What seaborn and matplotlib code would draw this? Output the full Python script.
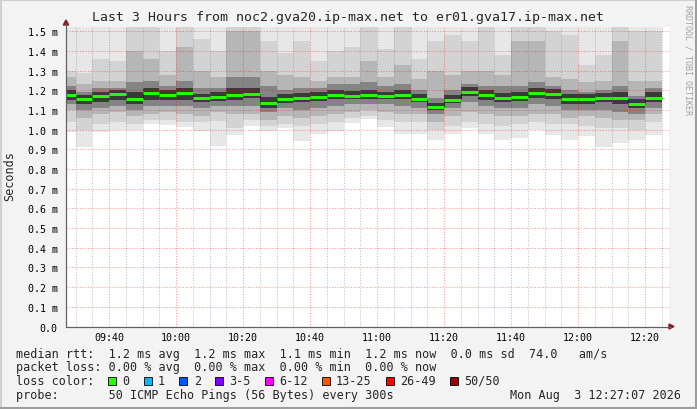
import numpy as np
import pandas as pd
import matplotlib
matplotlib.use("Agg")
import matplotlib.pyplot as plt
import matplotlib.dates as mdates
from matplotlib.patches import Rectangle, Polygon
from matplotlib.lines import Line2D
from matplotlib.ticker import MultipleLocator, FuncFormatter
import seaborn as sns

# chart text
title = "Last 3 Hours from noc2.gva20.ip-max.net to er01.gva17.ip-max.net"
y_label = "Seconds"
watermark = "RRDTOOL / TOBI OETIKER"
stamp = "Mon Aug  3 12:27:07 2026"

# time axis (5 min steps, first slot partly outside the window)
first_slot = "2026-08-03 09:25"
view_start = "2026-08-03 09:27:07"
view_end = "2026-08-03 12:27:07"
step = "5min"

# median rtt per slot (ms)
median = [1.178, 1.158, 1.173, 1.183, 1.158, 1.188, 1.178, 1.188, 1.163, 1.168, 1.178, 1.183,
          1.137, 1.158, 1.163, 1.168, 1.178, 1.173, 1.178, 1.173, 1.178, 1.158, 1.117, 1.152,
          1.193, 1.178, 1.163, 1.168, 1.188, 1.183, 1.158, 1.158, 1.163, 1.163, 1.132, 1.163]

# smoke: lowest / highest ping per slot
ping_min = [0.987, 0.914, 0.990, 1.000, 1.000, 1.029, 1.026, 1.016, 0.995, 0.919, 0.973, 1.021,
            0.995, 1.009, 0.943, 0.980, 0.995, 1.034, 1.054, 1.016, 0.980, 0.977, 0.947, 0.980,
            1.009, 0.980, 0.950, 0.960, 1.000, 0.975, 0.947, 0.967, 0.914, 0.932, 0.947, 0.975]
ping_max = [1.62, 1.60, 1.63, 1.61, 1.70, 1.68, 1.62, 1.72, 1.64, 1.62, 1.75, 1.74,
            1.63, 1.62, 1.64, 1.61, 1.62, 1.63, 1.70, 1.62, 1.69, 1.61, 1.64, 1.65,
            1.64, 1.68, 1.62, 1.71, 1.70, 1.66, 1.65, 1.60, 1.62, 1.70, 1.66, 1.66]

# smoke: outer band (~5th / 46th ping)
outer_lo = [1.04, 1.00, 1.03, 1.04, 1.03, 1.05, 1.05, 1.04, 1.04, 1.045, 1.01, 1.05,
            1.02, 1.03, 1.02, 1.03, 1.04, 1.06, 1.07, 1.05, 1.04, 1.04, 1.00, 1.02,
            1.04, 1.03, 1.02, 1.03, 1.04, 1.03, 1.03, 1.02, 1.01, 1.01, 1.00, 1.04]
outer_hi = [1.30, 1.29, 1.36, 1.35, 1.60, 1.60, 1.40, 1.60, 1.46, 1.40, 1.60, 1.60,
            1.45, 1.39, 1.45, 1.35, 1.40, 1.42, 1.60, 1.41, 1.60, 1.36, 1.45, 1.48,
            1.45, 1.60, 1.38, 1.60, 1.60, 1.50, 1.48, 1.33, 1.38, 1.60, 1.50, 1.50]

# smoke: middle band (~10th / 41st ping)
mid_lo = [1.10, 1.06, 1.08, 1.09, 1.07, 1.08, 1.09, 1.08, 1.07, 1.09, 1.08, 1.08,
          1.05, 1.07, 1.06, 1.07, 1.08, 1.09, 1.10, 1.09, 1.08, 1.08, 1.04, 1.07,
          1.09, 1.08, 1.07, 1.07, 1.08, 1.08, 1.06, 1.07, 1.06, 1.05, 1.05, 1.08]
mid_hi = [1.27, 1.23, 1.25, 1.25, 1.40, 1.36, 1.28, 1.42, 1.30, 1.27, 1.50, 1.50,
          1.30, 1.28, 1.27, 1.25, 1.27, 1.27, 1.35, 1.27, 1.33, 1.26, 1.30, 1.28,
          1.30, 1.30, 1.28, 1.45, 1.45, 1.27, 1.26, 1.24, 1.25, 1.45, 1.25, 1.25]

# smoke: inner band (~17th / 34th ping)
inner_lo = [1.13, 1.10, 1.11, 1.12, 1.10, 1.12, 1.12, 1.12, 1.11, 1.12, 1.12, 1.12,
            1.09, 1.11, 1.10, 1.11, 1.12, 1.13, 1.13, 1.13, 1.12, 1.11, 1.08, 1.11,
            1.14, 1.12, 1.11, 1.11, 1.13, 1.12, 1.10, 1.10, 1.10, 1.09, 1.08, 1.11]
inner_hi = [1.22, 1.19, 1.21, 1.21, 1.24, 1.25, 1.22, 1.25, 1.21, 1.21, 1.27, 1.27,
            1.22, 1.20, 1.21, 1.21, 1.23, 1.23, 1.24, 1.22, 1.23, 1.20, 1.16, 1.20,
            1.23, 1.22, 1.22, 1.22, 1.24, 1.22, 1.20, 1.19, 1.20, 1.22, 1.17, 1.21]

# smoke: core band (~22nd / 29th ping)
core_lo = [1.15, 1.13, 1.14, 1.15, 1.13, 1.15, 1.15, 1.15, 1.14, 1.145, 1.15, 1.16,
           1.11, 1.135, 1.14, 1.145, 1.155, 1.155, 1.155, 1.155, 1.155, 1.14, 1.10, 1.135,
           1.17, 1.15, 1.14, 1.145, 1.16, 1.155, 1.13, 1.13, 1.14, 1.13, 1.11, 1.14]
core_hi = [1.20, 1.175, 1.19, 1.20, 1.19, 1.21, 1.20, 1.21, 1.18, 1.19, 1.21, 1.21,
           1.165, 1.18, 1.185, 1.19, 1.20, 1.195, 1.20, 1.19, 1.20, 1.18, 1.135, 1.175,
           1.215, 1.20, 1.185, 1.19, 1.21, 1.205, 1.18, 1.18, 1.185, 1.19, 1.155, 1.19]

# legend text
rtt_line = "median rtt:  1.2 ms avg  1.2 ms max  1.1 ms min  1.2 ms now  0.0 ms sd  74.0   am/s"
loss_line = "packet loss: 0.00 % avg  0.00 % max  0.00 % min  0.00 % now"
probe_line = "probe:       50 ICMP Echo Pings (56 Bytes) every 300s"
loss_labels = ["0", "1", "2", "3-5", "6-12", "13-25", "26-49", "50/50"]
loss_colors = ["#26ff00", "#00b8ff", "#0059ff", "#7e00ff", "#ff00ff", "#ff5500", "#ff0000", "#a10000"]

sns.set_style("white")
plt.rcParams["font.family"] = ["DejaVu Sans Mono", "DejaVu Sans"]

W, H = 697, 410
fig = plt.figure(figsize=(W / 100, H / 100), dpi=100, facecolor="#f3f3f3")
ax = fig.add_axes([66 / W, 1 - 327.5 / H, 603 / W, 300 / H])
ax.set_facecolor("white")

slots = pd.date_range(first_slot, periods=len(median), freq=step)
x = mdates.date2num(slots.to_pydatetime())
w = pd.Timedelta(step) / pd.Timedelta("1D")

# smoke bands, lightest (widest) first
bands = [(ping_min, ping_max, "#e7e7e7"),
         (outer_lo, outer_hi, "#d3d3d3"),
         (mid_lo, mid_hi, "#b6b6b6"),
         (inner_lo, inner_hi, "#848484"),
         (core_lo, core_hi, "#3a3a3a")]
for lo, hi, c in bands:
    lo = np.array(lo)
    hi = np.array(hi)
    ax.bar(x, hi - lo, bottom=lo, width=w, align="edge", color=c, linewidth=0, zorder=1)

# median: thin dark steps + green segments
df = pd.DataFrame({"t": np.append(x, x[-1] + w), "median": median + [median[-1]]})
sns.lineplot(data=df, x="t", y="median", drawstyle="steps-post", color="#202020",
             linewidth=0.7, ax=ax, zorder=3)
ax.hlines(median, x, x + w, color=loss_colors[0], linewidth=2.1, zorder=4)

ax.set_xlim(mdates.date2num(pd.Timestamp(view_start)), mdates.date2num(pd.Timestamp(view_end)))
ax.set_ylim(0, 1.5245)

ax.xaxis.set_major_locator(mdates.MinuteLocator(byminute=[0, 20, 40]))
ax.xaxis.set_minor_locator(mdates.MinuteLocator(byminute=range(0, 60, 5)))
ax.xaxis.set_major_formatter(mdates.DateFormatter("%H:%M"))
ax.yaxis.set_major_locator(MultipleLocator(0.1))
ax.yaxis.set_major_formatter(FuncFormatter(lambda v, p: "0.0" if abs(v) < 1e-9 else f"{v:.1f} m"))

ax.set_axisbelow(False)
ax.grid(which="major", color="#ff0000", alpha=0.4, linewidth=0.75, linestyle=(0, (1, 1.6)))
ax.grid(which="minor", axis="x", color="#808080", alpha=0.5, linewidth=0.75, linestyle=(0, (1, 1.6)))

ax.tick_params(axis="both", which="major", labelsize=7.2, length=2, width=0.7,
               color="#ff9090", labelcolor="black")
ax.tick_params(axis="x", which="minor", length=0)
ax.tick_params(axis="x", pad=2)
ax.tick_params(axis="y", pad=4)
ax.set_xlabel("")
ax.set_ylabel("")

for s in ["top", "right"]:
    ax.spines[s].set_visible(False)
for s in ["left", "bottom"]:
    ax.spines[s].set_color("#606060")
    ax.spines[s].set_linewidth(0.8)
    ax.spines[s].set_zorder(5)


def fx(px):
    return px / W


def fy(py):
    return 1 - py / H


# axis arrows
arrow_c = "#8b1a1a"
fig.add_artist(Line2D([fx(66), fx(66)], [fy(327.5), fy(24)], color="#606060", linewidth=0.8))
fig.add_artist(Line2D([fx(66), fx(671)], [fy(327.5), fy(327.5)], color="#606060", linewidth=0.8))
fig.add_artist(Polygon([[fx(63.3), fy(26)], [fx(68.7), fy(26)], [fx(66), fy(21)]],
                       closed=True, transform=fig.transFigure, color=arrow_c))
fig.add_artist(Polygon([[fx(669), fy(325)], [fx(669), fy(330)], [fx(674), fy(327.5)]],
                       closed=True, transform=fig.transFigure, color=arrow_c))

# frame
fig.add_artist(Line2D([0, 1], [fy(1), fy(1)], color="#cfcfcf", linewidth=1.5))
fig.add_artist(Line2D([fx(1), fx(1)], [0, 1], color="#cfcfcf", linewidth=1.5))
fig.add_artist(Line2D([0, 1], [fy(409), fy(409)], color="#9e9e9e", linewidth=1.5))
fig.add_artist(Line2D([fx(696), fx(696)], [0, 1], color="#9e9e9e", linewidth=1.5))

# texts
fig.text(0.5, fy(18), title, ha="center", va="center", fontsize=9.5)
fig.text(fx(10), fy(176), y_label, rotation=90, ha="center", va="center", fontsize=8.5)
fig.text(fx(688), fy(5), watermark, rotation=270, ha="center", va="top", fontsize=6,
         color="#a0a0a0")

fs = 8.5
cw = 0.602 * fs * 100 / 72
x0 = 16
fig.text(fx(x0), fy(354.5), rtt_line, ha="left", va="center", fontsize=fs)
fig.text(fx(x0), fy(368), loss_line, ha="left", va="center", fontsize=fs)
fig.text(fx(x0), fy(381.5), "loss color:", ha="left", va="center", fontsize=fs)
fig.text(fx(x0), fy(395.5), probe_line, ha="left", va="center", fontsize=fs)
fig.text(fx(681), fy(395.5), stamp, ha="right", va="center", fontsize=fs)

col = 13
for lab, c in zip(loss_labels, loss_colors):
    bx = x0 + col * cw
    fig.add_artist(Rectangle((fx(bx), fy(385.5)), 8 / W, 8 / H, transform=fig.transFigure,
                             facecolor=c, edgecolor="black", linewidth=0.6))
    fig.text(fx(x0 + (col + 2) * cw), fy(381.5), lab, ha="left", va="center", fontsize=fs)
    col += 2 + len(lab) + 2

fig.savefig("out.png", dpi=100, facecolor=fig.get_facecolor())
